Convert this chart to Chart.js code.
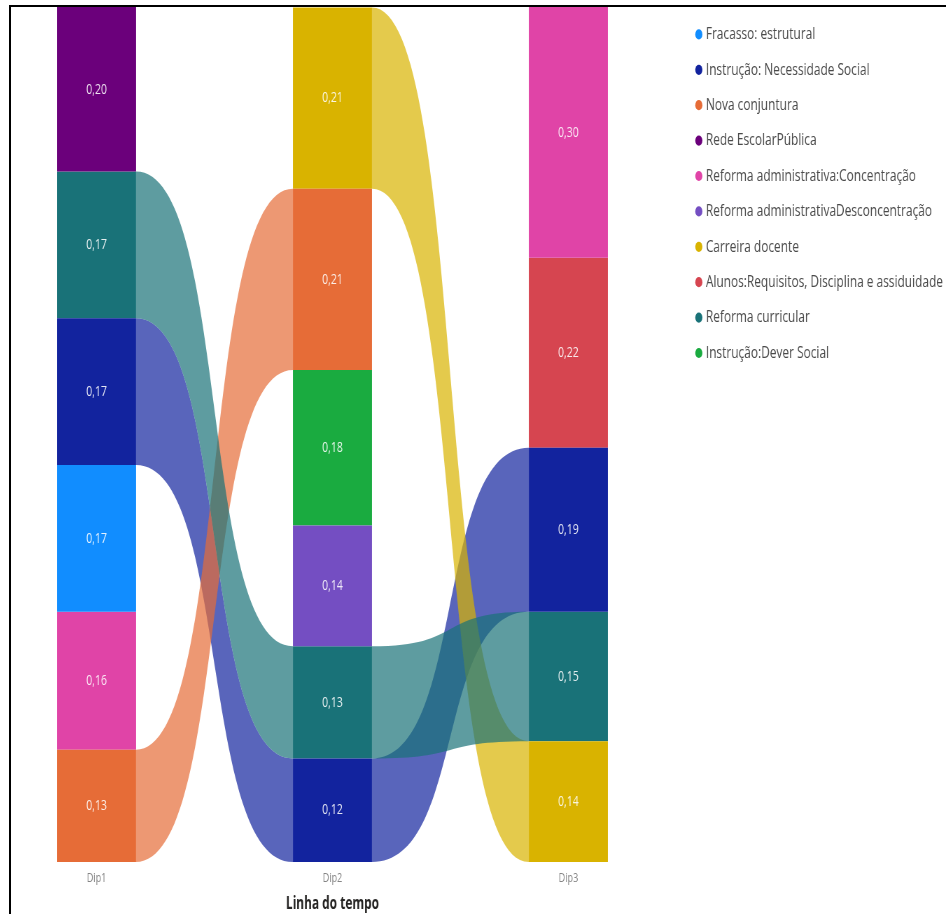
<!DOCTYPE html>
<html lang="pt">
<head>
<meta charset="utf-8">
<title>Linha do tempo</title>
<script src="https://cdn.jsdelivr.net/npm/chart.js@4.4.1/dist/chart.umd.min.js"></script>
<style>
  html, body { margin: 0; padding: 0; background: #fff; }
  #frame { position: relative; width: 946px; height: 914px; overflow: hidden; background: #fff; }
  /* the canvas is laid out wider and squeezed horizontally into the frame */
  #chart { position: absolute; left: -20px; top: 0; }
  .mask { position: absolute; left: 0; top: 0; width: 946px; height: 5px; background: #fff; }
  .rule-top { position: absolute; left: 9px; top: 5px; width: 937px; height: 2px; background: #000; }
  .rule-left { position: absolute; left: 9px; top: 5px; width: 2px; height: 909px; background: #000; }
</style>
</head>
<body>
<div id="frame">
  <canvas id="chart" width="1380" height="914" style="width: 966px; height: 914px;"></canvas>
  <div class="mask"></div>
  <div class="rule-top"></div>
  <div class="rule-left"></div>
</div>
<script>
// ---- data ----
const categories = ['Dip1', 'Dip2', 'Dip3'];

const seriesNames = [
  'Fracasso: estrutural',
  'Instrução: Necessidade Social',
  'Nova conjuntura',
  'Rede EscolarPública',
  'Reforma administrativa:Concentração',
  'Reforma administrativaDesconcentração',
  'Carreira docente',
  'Alunos:Requisitos, Disciplina e assiduidade',
  'Reforma curricular',
  'Instrução:Dever Social'
];

// share of each theme per period (null = absent in that period)
const fracassoEstrutural     = [0.17, null, null];
const necessidadeSocial      = [0.17, 0.12, 0.19];
const novaConjuntura         = [0.13, 0.21, null];
const redeEscolarPublica     = [0.20, null, null];
const reformaConcentracao    = [0.16, null, 0.30];
const reformaDesconcentracao = [null, 0.14, null];
const carreiraDocente        = [null, 0.21, 0.14];
const alunosRequisitos       = [null, null, 0.22];
const reformaCurricular      = [0.17, 0.13, 0.15];
const deverSocial            = [null, 0.18, null];

// stacking order inside each period, top to bottom
const dip1Ranking = ['Rede EscolarPública', 'Reforma curricular', 'Instrução: Necessidade Social',
  'Fracasso: estrutural', 'Reforma administrativa:Concentração', 'Nova conjuntura'];
const dip2Ranking = ['Carreira docente', 'Nova conjuntura', 'Instrução:Dever Social',
  'Reforma administrativaDesconcentração', 'Reforma curricular', 'Instrução: Necessidade Social'];
const dip3Ranking = ['Reforma administrativa:Concentração', 'Alunos:Requisitos, Disciplina e assiduidade',
  'Instrução: Necessidade Social', 'Reforma curricular', 'Carreira docente'];

// ---- styles ----
const seriesColors = ['#118DFF', '#12239E', '#E66C37', '#6B007B', '#E044A7',
  '#744EC2', '#D9B300', '#D64550', '#197278', '#1AAB40'];
const RIBBON_ALPHA = 0.7;
const RIBBON_BEND = 0.6;
const FONT = '"Open Sans", "Noto Sans", sans-serif';

const seriesValues = [fracassoEstrutural, necessidadeSocial, novaConjuntura, redeEscolarPublica,
  reformaConcentracao, reformaDesconcentracao, carreiraDocente, alunosRequisitos,
  reformaCurricular, deverSocial];
const rankings = [dip1Ranking, dip2Ranking, dip3Ranking];

// floating [start, end] ranges, stacked from the bottom of each column
const ranges = seriesNames.map(() => categories.map(() => null));
rankings.forEach((ranking, c) => {
  let base = 0;
  ranking.slice().reverse().forEach(name => {
    const s = seriesNames.indexOf(name);
    const v = seriesValues[s][c];
    ranges[s][c] = [base, base + v];
    base += v;
  });
});

function withAlpha(hex, a) {
  const n = parseInt(hex.slice(1), 16);
  return `rgba(${(n >> 16) & 255}, ${(n >> 8) & 255}, ${n & 255}, ${a})`;
}

// ribbons joining the same theme in consecutive periods
const ribbons = {
  id: 'ribbons',
  beforeDatasetsDraw(chart) {
    const ctx = chart.ctx;
    ctx.save();
    chart.data.datasets.forEach((ds, s) => {
      const meta = chart.getDatasetMeta(s);
      for (let c = 0; c < categories.length - 1; c++) {
        if (ds.data[c] == null || ds.data[c + 1] == null) continue;
        const a = meta.data[c], b = meta.data[c + 1];
        const x0 = a.x + a.width / 2, x1 = b.x - b.width / 2;
        const aTop = Math.min(a.y, a.base), aBot = Math.max(a.y, a.base);
        const bTop = Math.min(b.y, b.base), bBot = Math.max(b.y, b.base);
        const k = (x1 - x0) * RIBBON_BEND;
        ctx.beginPath();
        ctx.moveTo(x0, aTop);
        ctx.bezierCurveTo(x0 + k, aTop, x1 - k, bTop, x1, bTop);
        ctx.lineTo(x1, bBot);
        ctx.bezierCurveTo(x1 - k, bBot, x0 + k, aBot, x0, aBot);
        ctx.closePath();
        ctx.fillStyle = withAlpha(seriesColors[s], RIBBON_ALPHA);
        ctx.fill();
      }
    });
    ctx.restore();
  }
};

// value written in the middle of the visible part of each bar
const valueLabels = {
  id: 'valueLabels',
  afterDatasetsDraw(chart) {
    const {ctx, chartArea} = chart;
    ctx.save();
    ctx.font = `15px ${FONT}`;
    ctx.fillStyle = 'rgba(255, 255, 255, 0.88)';
    ctx.textAlign = 'center';
    ctx.textBaseline = 'middle';
    chart.data.datasets.forEach((ds, s) => {
      const meta = chart.getDatasetMeta(s);
      meta.data.forEach((bar, c) => {
        const v = seriesValues[s][c];
        if (v == null) return;
        const top = Math.max(Math.min(bar.y, bar.base), chartArea.top);
        const bottom = Math.min(Math.max(bar.y, bar.base), chartArea.bottom);
        ctx.fillText(v.toFixed(2).replace('.', ','), bar.x, (top + bottom) / 2);
      });
    });
    ctx.restore();
  }
};

new Chart(document.getElementById('chart'), {
  type: 'bar',
  data: {
    labels: categories.map((_, i) => i),
    datasets: seriesNames.map((name, s) => ({
      label: name,
      data: ranges[s],
      backgroundColor: seriesColors[s],
      borderWidth: 0
    }))
  },
  options: {
    responsive: false,
    animation: false,
    events: [],
    layout: { padding: { left: 0, right: 0, top: 7.5, bottom: 0 } },
    datasets: { bar: { categoryPercentage: 1, barPercentage: 0.335, clip: false } },
    scales: {
      x: {
        type: 'linear', min: -0.494, max: 2.494, stacked: true, offset: false,
        afterBuildTicks: scale => { scale.ticks = categories.map((_, i) => ({ value: i })); },
        ticks: {
          callback: v => categories[v],
          color: '#858585', font: { family: FONT, size: 13 }, padding: 8,
          maxRotation: 0, autoSkip: false
        },
        grid: { display: false, drawTicks: false },
        border: { display: false },
        title: {
          display: true, text: 'Linha do tempo', color: '#252423',
          font: { family: FONT, size: 17, weight: 'bold' }, padding: { top: 0, bottom: 0 }
        }
      },
      y: { display: false, min: 0, max: 0.99, stacked: false }
    },
    plugins: {
      legend: {
        position: 'right', align: 'start', maxWidth: 373,
        labels: {
          usePointStyle: true, pointStyle: 'circle', boxWidth: 3, boxHeight: 7.2,
          padding: 18.4, color: '#4A4A4A', font: { family: FONT, size: 17 }
        }
      },
      tooltip: { enabled: false }
    }
  },
  plugins: [ribbons, valueLabels]
});
</script>
</body>
</html>
